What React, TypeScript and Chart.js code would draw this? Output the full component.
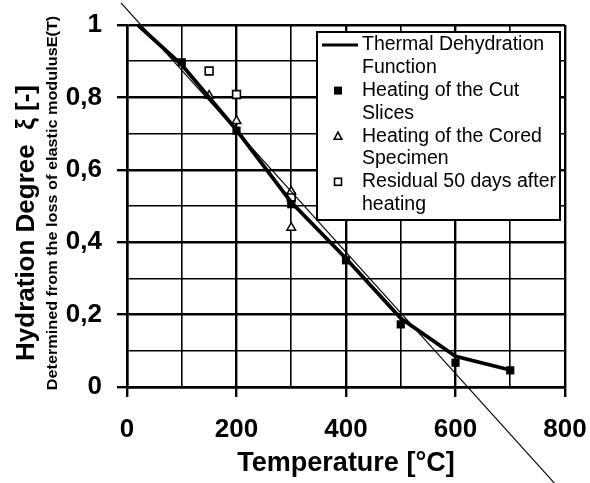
import React, { useEffect, useRef } from 'react';
import { Chart, registerables } from 'chart.js';

Chart.register(...registerables);

const FONT = "'Liberation Sans', Arial, Helvetica, sans-serif";

// Thermal dehydration function (thick line)
const fnT = [20, 100, 200, 300, 400, 500, 600, 700];
const fnXi = [1.0, 0.89, 0.71, 0.51, 0.355, 0.19, 0.085, 0.047];

// Heating of the cut slices (filled squares)
const cutT = [100, 200, 300, 400, 500, 600, 700];
const cutXi = [0.897, 0.708, 0.505, 0.35, 0.173, 0.067, 0.046];

// Heating of the cored specimen (open triangles)
const coredT = [150, 200, 300, 300];
const coredXi = [0.805, 0.735, 0.54, 0.44];

// Residual 50 days after heating (open squares)
const resT = [150, 200, 300];
const resXi = [0.873, 0.808, 0.525];

// Thin straight reference line (hand drawn, not in legend)
const refT = [-11, 781];
const refXi = [1.061, -0.266];

const xTickValues = [0, 200, 400, 600, 800];
const xTickLabels = ['0', '200', '400', '600', '800'];
const yTickValues = [0, 0.2, 0.4, 0.6, 0.8, 1];
const yTickLabels = ['0', '0,2', '0,4', '0,6', '0,8', '1'];

const legendLabels = [
  ['Thermal Dehydration', 'Function'],
  ['Heating of the Cut', 'Slices'],
  ['Heating of the Cored', 'Specimen'],
  ['Residual 50 days after', 'heating'],
];

const xTitle = 'Temperature [°C]';
const yTitle = 'Hydration Degree  ξ [-]';
const ySubTitle = 'Determined from the loss of elastic modulusE(T)';

const pts = (xs: number[], ys: number[]) => xs.map((x, i) => ({ x, y: ys[i] }));

const findIdx = (arr: number[], v: number) => arr.findIndex((a) => Math.abs(a - v) < 1e-6);

const drawMarker = (ctx: CanvasRenderingContext2D, kind: string, x: number, y: number) => {
  ctx.save();
  ctx.strokeStyle = '#000';
  ctx.fillStyle = '#000';
  ctx.lineWidth = 1.6;
  if (kind === 'filled') {
    ctx.fillRect(x - 4, y - 4, 8, 8);
  } else if (kind === 'tri') {
    ctx.beginPath();
    ctx.moveTo(x, y - 4);
    ctx.lineTo(x + 3.8, y + 3);
    ctx.lineTo(x - 3.8, y + 3);
    ctx.closePath();
    ctx.fillStyle = '#fff';
    ctx.fill();
    ctx.stroke();
  } else if (kind === 'open') {
    ctx.fillStyle = '#fff';
    ctx.fillRect(x - 3.5, y - 3.5, 7, 7);
    ctx.strokeRect(x - 3.5, y - 3.5, 7, 7);
  }
  ctx.restore();
};

const decorPlugin = {
  id: 'decor',
  afterDraw(chart: any) {
    const ctx: CanvasRenderingContext2D = chart.ctx;
    const a = chart.chartArea;

    // y-axis titles
    ctx.save();
    ctx.fillStyle = '#000';
    ctx.textAlign = 'center';
    ctx.textBaseline = 'middle';
    ctx.translate(a.left - 100, (a.top + a.bottom) / 2 + 17);
    ctx.rotate(-Math.PI / 2);
    ctx.font = `bold 26px ${FONT}`;
    ctx.fillText(yTitle, 0, 0);
    ctx.restore();

    ctx.save();
    ctx.fillStyle = '#000';
    ctx.textAlign = 'center';
    ctx.textBaseline = 'middle';
    ctx.translate(a.left - 74, (a.top + a.bottom) / 2 - 3);
    ctx.rotate(-Math.PI / 2);
    ctx.scale(1.16, 1);
    ctx.font = `bold 14px ${FONT}`;
    ctx.fillText(ySubTitle, 0, 0);
    ctx.restore();

    // legend box
    const lx = a.left + 190;
    const ly = a.top + 7;
    const rx = a.right - 5;
    const by = a.top + 195;
    ctx.save();
    ctx.fillStyle = '#fff';
    ctx.fillRect(lx, ly, rx - lx, by - ly);
    ctx.strokeStyle = '#000';
    ctx.lineWidth = 2;
    ctx.strokeRect(lx, ly, rx - lx, by - ly);

    const rowH = 22.8;
    const firstRow = ly + 13;
    const textX = lx + 45;
    const markX = lx + 21;
    ctx.font = `19.5px ${FONT}`;
    ctx.fillStyle = '#000';
    ctx.textAlign = 'left';
    ctx.textBaseline = 'middle';
    const kinds = ['line', 'filled', 'tri', 'open'];
    legendLabels.forEach((lines, i) => {
      const y0 = firstRow + rowH * 2 * i;
      if (kinds[i] === 'line') {
        ctx.save();
        ctx.strokeStyle = '#000';
        ctx.lineWidth = 3;
        ctx.beginPath();
        ctx.moveTo(lx + 5, y0);
        ctx.lineTo(lx + 41, y0);
        ctx.stroke();
        ctx.restore();
      } else {
        drawMarker(ctx, kinds[i], markX, y0);
      }
      lines.forEach((t, j) => ctx.fillText(t, textX, y0 + j * rowH));
    });
    ctx.restore();
  },
};

export default function App() {
  const ref = useRef<HTMLCanvasElement | null>(null);

  useEffect(() => {
    if (!ref.current) return;
    const majorX = (v: number) => findIdx(xTickValues, v) >= 0;
    const majorY = (v: number) => findIdx(yTickValues, v) >= 0;
    const chart = new Chart(ref.current, {
      type: 'scatter',
      data: {
        datasets: [
          {
            label: 'ref',
            data: pts(refT, refXi),
            showLine: true,
            borderColor: '#000',
            borderWidth: 1.2,
            pointRadius: 0,
            clip: false as any,
          },
          {
            label: 'Thermal Dehydration Function',
            data: pts(fnT, fnXi),
            showLine: true,
            borderColor: '#000',
            borderWidth: 3.8,
            pointRadius: 0,
          },
          {
            label: 'Heating of the Cut Slices',
            data: pts(cutT, cutXi),
            pointStyle: 'rect',
            pointRadius: 5.8,
            backgroundColor: '#000',
            borderColor: '#000',
            borderWidth: 0,
          },
          {
            label: 'Heating of the Cored Specimen',
            data: pts(coredT, coredXi),
            pointStyle: 'triangle',
            pointRadius: 5,
            backgroundColor: '#fff',
            borderColor: '#000',
            borderWidth: 1.5,
          },
          {
            label: 'Residual 50 days after heating',
            data: pts(resT, resXi),
            pointStyle: 'rect',
            pointRadius: 5.5,
            backgroundColor: '#fff',
            borderColor: '#000',
            borderWidth: 1.6,
          },
        ],
      },
      options: {
        responsive: false,
        animation: false,
        layout: { padding: { left: 0, right: 25, top: 25, bottom: 0 } },
        plugins: { legend: { display: false }, tooltip: { enabled: false } },
        scales: {
          x: {
            type: 'linear',
            min: 0,
            max: 800,
            afterFit: (s: any) => {
              s.height = 96;
              s.paddingLeft = 0;
              s.paddingRight = 0;
            },
            ticks: {
              stepSize: 100,
              autoSkip: false,
              maxRotation: 0,
              padding: 17,
              color: '#000',
              font: { family: FONT, size: 26, weight: 'bold' },
              callback: (v: any) => {
                const i = findIdx(xTickValues, Number(v));
                return i >= 0 ? xTickLabels[i] : '';
              },
            },
            grid: {
              color: '#000',
              lineWidth: (c: any) => (majorX(c.tick.value) ? 2.4 : 1.6),
              tickLength: 10,
              tickColor: (c: any) => (majorX(c.tick.value) ? '#000' : 'rgba(0,0,0,0)'),
              tickWidth: 2.4,
            },
            border: { color: '#000', width: 2.5 },
            title: {
              display: true,
              text: xTitle,
              color: '#000',
              font: { family: FONT, size: 27, weight: 'bold' },
              padding: { top: 0, bottom: 3 },
            },
          },
          y: {
            type: 'linear',
            min: 0,
            max: 1,
            afterFit: (s: any) => {
              s.width = 127;
              s.paddingTop = 0;
              s.paddingBottom = 0;
            },
            ticks: {
              stepSize: 0.1,
              autoSkip: false,
              padding: 15,
              color: '#000',
              font: { family: FONT, size: 26, weight: 'bold' },
              callback: (v: any) => {
                const i = findIdx(yTickValues, Number(v));
                return i >= 0 ? yTickLabels[i] : '';
              },
            },
            grid: {
              color: '#000',
              lineWidth: (c: any) => (majorY(c.tick.value) ? 2.4 : 1.6),
              tickLength: 10,
              tickColor: (c: any) => (majorY(c.tick.value) ? '#000' : 'rgba(0,0,0,0)'),
              tickWidth: 2.4,
            },
            border: { color: '#000', width: 2.5 },
          },
        },
      },
      plugins: [decorPlugin],
    } as any);
    return () => chart.destroy();
  }, []);

  return (
    <div style={{ position: 'absolute', left: 0, top: 0, width: 590, height: 483, background: '#fff' }}>
      <canvas ref={ref} width={590} height={483} style={{ display: 'block' }} />
    </div>
  );
}
